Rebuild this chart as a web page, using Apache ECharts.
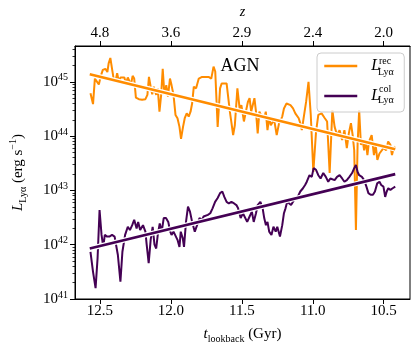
<!DOCTYPE html>
<html>
<head>
<meta charset="utf-8">
<script src="https://cdn.jsdelivr.net/npm/echarts@6.0.0/dist/echarts.min.js"></script>
<style>
  html, body { margin: 0; padding: 0; background: #fff; }
  #chart { width: 416px; height: 353px; }
</style>
</head>
<body>
<div id="chart"></div>
<script>
// lookback time (Gyr) and log10 L_Lya (erg/s), recombination
var tRec = [12.566,12.548,12.535,12.521,12.507,12.493,12.479,12.461,12.447,12.438,
  12.426,12.414,12.403,12.389,12.378,12.366,12.355,12.341,12.327,12.317,
  12.303,12.292,12.281,12.269,12.258,12.246,12.225,12.202,12.179,12.165,
  12.154,12.142,12.131,12.120,12.103,12.092,12.080,12.068,12.057,12.045,
  12.032,12.020,12.006,11.995,11.981,11.967,11.953,11.939,11.928,11.914,
  11.902,11.888,11.874,11.861,11.850,11.838,11.822,11.803,11.780,11.757,
  11.734,11.715,11.699,11.687,11.670,11.653,11.642,11.623,11.607,11.596,
  11.584,11.573,11.561,11.549,11.531,11.514,11.503,11.485,11.469,11.457,
  11.445,11.434,11.422,11.411,11.400,11.388,11.376,11.365,11.342,11.331,
  11.319,11.307,11.296,11.272,11.254,11.238,11.215,11.203,11.185,11.157,
  11.139,11.123,11.099,11.088,11.077,11.061,11.047,11.030,11.014,10.996,
  10.977,10.961,10.938,10.915,10.899,10.881,10.862,10.846,10.829,10.811,
  10.793,10.777,10.760,10.746,10.731,10.719,10.708,10.696,10.684,10.673,
  10.661,10.649,10.638,10.626,10.615,10.604,10.585,10.569,10.557,10.545,
  10.530,10.518,10.502,10.483,10.469,10.453,10.442,10.430,10.419];
var logRec = [44.79,44.59,45.06,45.06,44.95,45.11,45.22,45.24,45.18,45.34,
  45.44,45.24,45.06,45.02,45.16,45.00,45.08,45.09,45.08,44.97,
  45.08,45.11,44.95,45.11,45.06,44.71,44.68,44.67,44.68,44.76,
  45.09,44.91,44.77,44.91,44.76,44.88,44.45,44.76,45.24,44.76,
  44.94,44.73,45.06,44.94,44.76,44.39,44.33,44.17,43.95,44.17,
  44.33,44.42,44.36,44.45,44.60,44.91,44.88,45.06,45.09,45.09,
  45.09,45.06,45.28,45.19,44.17,44.88,44.97,44.97,44.97,44.94,
  44.45,44.25,44.02,44.20,44.88,44.48,44.57,44.27,44.48,44.63,
  44.70,44.45,44.45,44.70,44.45,44.05,44.45,44.39,44.33,44.45,
  44.11,44.36,44.20,44.30,44.02,44.23,44.36,44.51,44.60,44.57,
  44.51,44.42,44.33,44.24,44.11,44.39,44.63,45.00,44.39,43.34,
  44.08,44.39,44.42,44.33,44.27,43.32,44.48,44.17,44.02,44.11,
  43.93,44.11,43.78,44.05,44.24,44.02,43.74,42.27,43.87,44.48,
  43.84,43.93,43.74,43.90,43.65,43.90,44.02,43.65,43.84,43.56,
  43.68,43.71,43.78,43.74,43.90,43.84,43.65,43.78,43.81];

// collisional excitation
var tCol = [12.566,12.548,12.530,12.516,12.502,12.488,12.476,12.465,12.449,12.433,
  12.414,12.396,12.387,12.373,12.355,12.341,12.322,12.303,12.288,12.272,
  12.258,12.241,12.230,12.216,12.196,12.179,12.170,12.156,12.142,12.128,
  12.115,12.103,12.092,12.078,12.064,12.050,12.034,12.018,12.004,11.995,
  11.981,11.967,11.953,11.939,11.930,11.916,11.907,11.893,11.879,11.865,
  11.850,11.831,11.815,11.798,11.780,11.769,11.757,11.739,11.722,11.706,
  11.688,11.670,11.653,11.637,11.623,11.607,11.591,11.573,11.554,11.538,
  11.526,11.508,11.492,11.480,11.462,11.445,11.429,11.416,11.400,11.388,
  11.369,11.353,11.342,11.330,11.319,11.307,11.291,11.277,11.261,11.250,
  11.231,11.215,11.203,11.192,11.180,11.169,11.153,11.139,11.123,11.106,
  11.088,11.069,11.054,11.042,11.023,11.007,10.994,10.977,10.961,10.945,
  10.926,10.908,10.891,10.876,10.862,10.846,10.829,10.811,10.793,10.777,
  10.760,10.742,10.723,10.708,10.696,10.684,10.673,10.654,10.638,10.622,
  10.608,10.592,10.576,10.562,10.546,10.530,10.518,10.502,10.490,10.479,
  10.468,10.453,10.437,10.419];
var logCol = [41.87,41.50,41.20,41.75,42.64,42.18,41.96,42.18,42.15,42.15,
  42.18,42.15,42.12,41.81,41.32,41.87,42.18,42.33,42.27,42.36,
  42.46,42.30,42.42,42.27,42.36,42.24,42.00,41.66,42.09,42.33,
  42.00,41.93,42.18,42.39,42.24,42.49,42.49,42.42,42.24,42.18,
  42.24,42.21,42.09,41.96,42.24,42.12,41.96,42.42,42.70,42.61,
  42.42,42.24,42.36,42.49,42.46,42.52,42.49,42.55,42.58,42.67,
  42.79,42.86,42.95,42.98,42.88,42.79,42.76,42.79,42.76,42.73,
  42.67,42.49,42.58,42.55,42.42,42.52,42.61,42.42,42.58,42.73,
  42.79,42.67,42.49,42.36,42.42,42.24,42.18,42.33,42.24,42.33,
  42.15,42.36,42.58,42.67,42.79,42.82,42.73,42.73,42.86,42.88,
  42.98,43.04,43.10,43.16,43.28,43.25,43.41,43.38,43.28,43.22,
  43.32,43.25,43.16,43.22,43.25,43.19,43.25,43.28,43.22,43.16,
  43.19,43.25,43.32,43.41,43.47,43.34,43.28,43.25,43.19,43.07,
  42.95,42.92,42.92,42.98,43.13,43.16,43.10,43.07,42.88,42.98,
  43.04,43.01,43.04,43.07];

// linear fits (end points)
var fitT = [12.571, 10.419];
var fitRec = [45.14, 43.76];
var fitCol = [41.93, 43.30];

// ticks
var tTicks = [10.5, 11.0, 11.5, 12.0, 12.5];
var zLabels = ['2.0', '2.4', '2.9', '3.6', '4.8'];
var yTicks = [41, 42, 43, 44, 45];

var FONT = '"Liberation Serif", "DejaVu Serif", serif';
var ORANGE = '#ff8c00';
var PURPLE = '#440154';

function pairs(xs, ys) {
  return xs.map(function (x, i) { return [x, ys[i]]; });
}
var minorTicks = [];
yTicks.forEach(function (d) {
  for (var k = 2; k <= 9; k++) {
    var v = d + Math.log10(k);
    if (v < 45.66) minorTicks.push(v);
  }
});

var chart = echarts.init(document.getElementById('chart'), null, { renderer: 'canvas' });
var sub = { fontFamily: FONT, fontSize: 10, lineHeight: 10, verticalAlign: 'bottom', color: '#000' };
var sup = { fontFamily: FONT, fontSize: 10, lineHeight: 10, verticalAlign: 'top', color: '#000' };
var ital = { fontFamily: FONT, fontSize: 15, fontStyle: 'italic', lineHeight: 20, color: '#000' };

function xAxisBase(pos) {
  return {
    type: 'value', min: 10.315, max: 12.675, inverse: true, position: pos,
    axisLine: { show: true, onZero: false, lineStyle: { color: '#000', width: 1 } },
    axisTick: { show: true, customValues: tTicks, length: 5, lineStyle: { color: '#000', width: 1 } },
    splitLine: { show: false },
    nameLocation: 'middle'
  };
}
var xBottom = xAxisBase('bottom');
xBottom.axisLabel = { customValues: tTicks, color: '#000', fontFamily: FONT, fontSize: 15, margin: 5,
  formatter: function (v) { return v.toFixed(1); } };
xBottom.name = '{i|t}{s|lookback} (Gyr)';
xBottom.nameGap = 25;
xBottom.nameTextStyle = { fontFamily: FONT, fontSize: 15, lineHeight: 20, color: '#000', rich: { i: ital, s: sub } };

var xTop = xAxisBase('top');
xTop.axisLabel = { customValues: tTicks, color: '#000', fontFamily: FONT, fontSize: 15, margin: 5,
  formatter: function (v) {
    for (var i = 0; i < tTicks.length; i++) if (Math.abs(tTicks[i] - v) < 1e-6) return zLabels[i];
    return '';
  } };
xTop.name = '{i|z}';
xTop.nameGap = 26;
xTop.nameTextStyle = { rich: { i: { fontFamily: FONT, fontSize: 14, fontStyle: 'italic', lineHeight: 16, color: '#000' } } };

function supText(x, y, s) {
  return { type: 'text', x: x, y: y, z: 100, zlevel: 1,
    style: { text: s, font: '10px ' + FONT, fill: '#000', verticalAlign: 'middle', textVerticalAlign: 'middle' } };
}

var option = {
  animation: false,
  backgroundColor: '#fff',
  grid: { left: 69, right: 6, top: 46, bottom: 54, show: true, borderColor: '#000', borderWidth: 1 },
  xAxis: [xBottom, xTop],
  yAxis: [
    {
      type: 'value', min: 41, max: 45.66, position: 'left',
      axisLine: { show: true, onZero: false, lineStyle: { color: '#000', width: 1 } },
      axisTick: { show: true, customValues: yTicks, length: 5, lineStyle: { color: '#000', width: 1 } },
      axisLabel: {
        customValues: yTicks, margin: 7,
        formatter: function (v) { return '{b|10}{p|' + v + '}'; },
        rich: {
          b: { fontFamily: FONT, fontSize: 15, lineHeight: 18, color: '#000' },
          p: { fontFamily: FONT, fontSize: 10, lineHeight: 10, verticalAlign: 'top', color: '#000' }
        }
      },
      splitLine: { show: false },
      name: '{i|L}{s|Lyα} (erg s{p|−1})',
      nameLocation: 'middle', nameGap: 47,
      nameTextStyle: { fontFamily: FONT, fontSize: 15, lineHeight: 20, color: '#000', rich: { i: ital, s: sub, p: sup } }
    },
    {
      type: 'value', min: 41, max: 45.66, position: 'left',
      axisLine: { show: false },
      axisTick: { show: true, customValues: minorTicks, length: 2.5, lineStyle: { color: '#000', width: 0.8 } },
      axisLabel: { show: false },
      splitLine: { show: false }
    }
  ],
  legend: {
    left: 317, top: 53, orient: 'vertical',
    itemWidth: 33, itemHeight: 14, itemGap: 14,
    padding: [5, 6, 8, 6],
    backgroundColor: 'rgba(255,255,255,0.8)', borderColor: '#cccccc', borderWidth: 1, borderRadius: 4,
    data: ['rec', 'col'],
    itemStyle: { opacity: 0 },
    lineStyle: { width: 2.5 },
    formatter: function () { return '{L|L}'; },
    textStyle: { rich: { L: { fontFamily: FONT, fontStyle: 'italic', fontSize: 16, lineHeight: 14, width: 27, padding: [0, 0, 0, 9], color: '#000' } } }
  },
  graphic: [
    { type: 'text', x: 240, y: 66, style: { text: 'AGN', font: '18px ' + FONT, fill: '#000', align: 'center', verticalAlign: 'middle', textAlign: 'center', textVerticalAlign: 'middle' } },
    supText(379, 61, 'rec'),
    supText(378, 72, 'Lyα'),
    supText(379, 89, 'col'),
    supText(378, 100, 'Lyα')
  ],
  series: [
    { name: 'rec', type: 'line', data: pairs(tRec, logRec), symbol: 'none', color: ORANGE,
      lineStyle: { color: ORANGE, width: 2 }, silent: true },
    { type: 'line', data: pairs(fitT, fitRec), symbol: 'none', lineStyle: { color: '#fff', width: 5 }, silent: true },
    { type: 'line', data: pairs(fitT, fitRec), symbol: 'none', lineStyle: { color: ORANGE, width: 2.6 }, silent: true },
    { name: 'col', type: 'line', data: pairs(tCol, logCol), symbol: 'none', color: PURPLE,
      lineStyle: { color: PURPLE, width: 2 }, silent: true },
    { type: 'line', data: pairs(fitT, fitCol), symbol: 'none', lineStyle: { color: '#fff', width: 5 }, silent: true },
    { type: 'line', data: pairs(fitT, fitCol), symbol: 'none', lineStyle: { color: PURPLE, width: 2.6 }, silent: true }
  ]
};
chart.setOption(option);
</script>
</body>
</html>
